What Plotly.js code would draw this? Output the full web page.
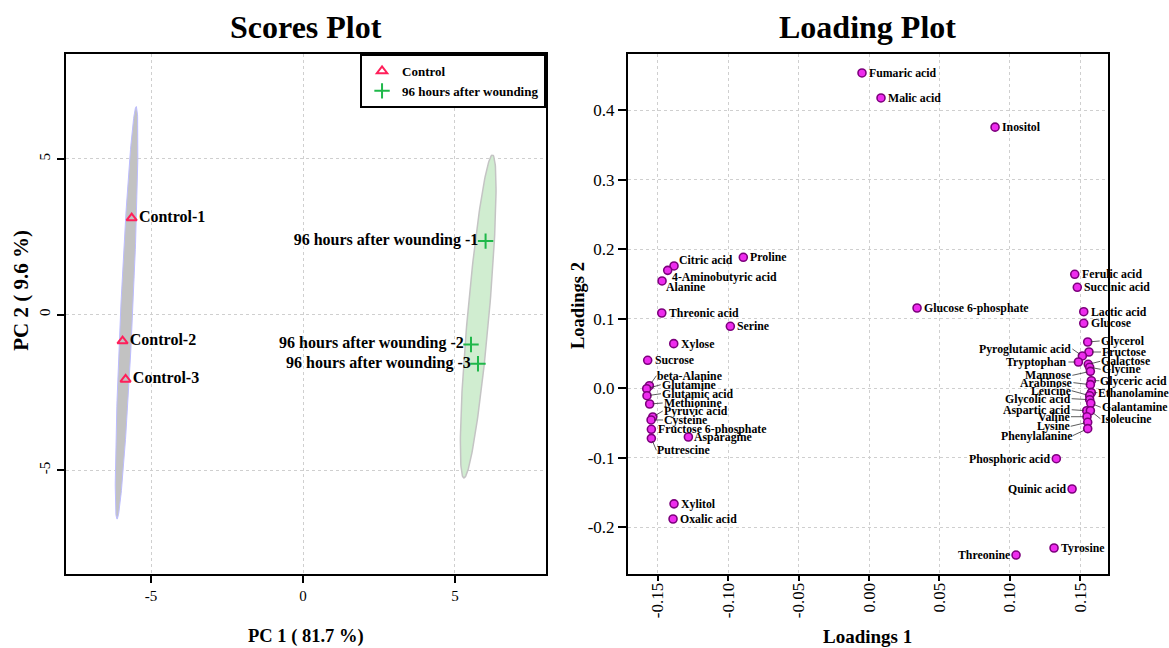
<!DOCTYPE html>
<html>
<head>
<meta charset="utf-8">
<script src="https://cdn.plot.ly/plotly-3.0.1.min.js"></script>
<style>
html,body{margin:0;padding:0;background:#ffffff;}
#chart{width:1169px;height:648px;}
</style>
</head>
<body>
<div id="chart"></div>
<script>
// ---------------- DATA ----------------
const controlNames = ['Control-1', 'Control-2', 'Control-3'];
const controlPC1 = [-5.64, -5.94, -5.84];
const controlPC2 = [3.10, -0.85, -2.08];

const woundNames = ['96 hours after wounding -1', '96 hours after wounding -2', '96 hours after wounding -3'];
const woundPC1 = [6.01, 5.53, 5.76];
const woundPC2 = [2.36, -0.96, -1.58];

const metabolites = [
  'Fumaric acid', 'Malic acid', 'Inositol', 'Proline', 'Citric acid', '4-Aminobutyric acid', 'Alanine',
  'Threonic acid', 'Serine', 'Xylose', 'Sucrose', 'beta-Alanine', 'Glutamine', 'Glutamic acid',
  'Methionine', 'Pyruvic acid', 'Cysteine', 'Fructose 6-phosphate', 'Putrescine', 'Asparagine',
  'Xylitol', 'Oxalic acid', 'Glucose 6-phosphate', 'Ferulic acid', 'Succinic acid', 'Lactic acid',
  'Glucose', 'Glycerol', 'Fructose', 'Pyroglutamic acid', 'Tryptophan', 'Galactose', 'Glycine',
  'Mannose', 'Glyceric acid', 'Arabinose', 'Ethanolamine', 'Leucine', 'Glycolic acid', 'Galantamine',
  'Aspartic acid', 'Isoleucine', 'Valine', 'Lysine', 'Phenylalanine', 'Phosphoric acid', 'Quinic acid',
  'Threonine', 'Tyrosine'
];
const loadings1 = [
  -0.005, 0.0085, 0.0895, -0.0893, -0.1385, -0.143, -0.147,
  -0.1472, -0.0985, -0.1387, -0.1572, -0.156, -0.1579, -0.1577,
  -0.1558, -0.1536, -0.1548, -0.1546, -0.1546, -0.1283,
  -0.1385, -0.1392, 0.0341, 0.1461, 0.1479, 0.1525,
  0.1525, 0.1553, 0.1562, 0.1515, 0.1487, 0.1557, 0.1567,
  0.1572, 0.1579, 0.1572, 0.1579, 0.1567, 0.1567, 0.1575,
  0.1546, 0.1572, 0.1548, 0.1553, 0.1553, 0.133, 0.1442,
  0.1044, 0.1314
];
const loadings2 = [
  0.454, 0.418, 0.376, 0.1888, 0.1763, 0.170, 0.1547,
  0.1086, 0.0895, 0.0645, 0.0406, 0.004, -0.0003, -0.0104,
  -0.0223, -0.041, -0.0453, -0.0587, -0.0717, -0.0698,
  -0.166, -0.1878, 0.1158, 0.1643, 0.1456, 0.1105,
  0.0938, 0.0669, 0.0525, 0.0468, 0.0381, 0.0348, 0.0305,
  0.0247, 0.0112, 0.0055, -0.006, -0.0104, -0.0161, -0.0213,
  -0.032, -0.032, -0.0406, -0.0486, -0.0578, -0.101, -0.1446,
  -0.2396, -0.2295
];

// tick labels
const scoreTickVals = [-5, 0, 5];
const scoreTickText = ['-5', '0', '5'];
const load1TickVals = [-0.15, -0.10, -0.05, 0.00, 0.05, 0.10, 0.15];
const load1TickText = ['-0.15', '-0.10', '-0.05', '0.00', '0.05', '0.10', '0.15'];
const load2TickVals = [-0.2, -0.1, 0.0, 0.1, 0.2, 0.3, 0.4];
const load2TickText = ['-0.2', '-0.1', '0.0', '0.1', '0.2', '0.3', '0.4'];

// ---------------- LABEL PLACEMENT (pixel offsets, layout only) ----------------
// [dx, dy, leaderLine]
const labelOffsets = {
  'Citric acid': [4, -6, 0], '4-Aminobutyric acid': [3, 7, 0], 'Alanine': [3, 6, 0],
  'Fructose 6-phosphate': [6, 0, 0], 'Asparagine': [5, 0, 0],
  'beta-Alanine': [7, -10, 1], 'Glutamine': [14, -4, 1], 'Glutamic acid': [14, -2, 1],
  'Methionine': [13, -1, 1], 'Pyruvic acid': [10, -6, 1], 'Cysteine': [12, 0, 1], 'Putrescine': [5, 12, 1],
  'Glycerol': [12, -1, 1], 'Fructose': [12, 0, 1], 'Galactose': [12, -3, 1], 'Glycine': [11, 2, 1],
  'Glyceric acid': [8, 0, 1], 'Ethanolamine': [6, 0, 1], 'Galantamine': [10, 4, 1], 'Isoleucine': [10, 8, 1],
  'Pyroglutamic acid': [-10, -7, 1], 'Tryptophan': [-10, 0, 1], 'Mannose': [-18, 4, 1],
  'Arabinose': [-17, -2, 1], 'Leucine': [-18, -5, 1], 'Glycolic acid': [-18, -1, 1],
  'Aspartic acid': [-15, -1, 1], 'Valine': [-16, 0, 1], 'Lysine': [-17, 4, 1], 'Phenylalanine': [-15, 7, 1],
  'Phosphoric acid': [-5, 0, 0], 'Quinic acid': [-5, 0, 0], 'Threonine': [-5, 0, 0]
};
const defaultOffset = [6, 0, 0];

// ---------------- HELPERS ----------------
const SERIF = 'Liberation Serif, Times New Roman, serif';
const CHI2_95_2DF = 5.991;

function confidenceEllipse(xs, ys, nPts) {
  const n = xs.length;
  const mx = xs.reduce((a, b) => a + b, 0) / n;
  const my = ys.reduce((a, b) => a + b, 0) / n;
  let sxx = 0, syy = 0, sxy = 0;
  for (let i = 0; i < n; i++) {
    const dx = xs[i] - mx, dy = ys[i] - my;
    sxx += dx * dx; syy += dy * dy; sxy += dx * dy;
  }
  sxx /= (n - 1); syy /= (n - 1); sxy /= (n - 1);
  const tr = (sxx + syy) / 2;
  const disc = Math.sqrt(((sxx - syy) / 2) ** 2 + sxy * sxy);
  const l1 = tr + disc, l2 = Math.max(tr - disc, 0);
  const theta = 0.5 * Math.atan2(2 * sxy, sxx - syy);
  const k = Math.sqrt(CHI2_95_2DF);
  const a = k * Math.sqrt(l1), b = k * Math.sqrt(l2);
  const ex = [], ey = [];
  for (let i = 0; i <= nPts; i++) {
    const t = 2 * Math.PI * i / nPts;
    const c = Math.cos(t), s = Math.sin(t);
    ex.push(mx + a * c * Math.cos(theta) - b * s * Math.sin(theta));
    ey.push(my + a * c * Math.sin(theta) + b * s * Math.cos(theta));
  }
  return {x: ex, y: ey};
}

const ctlEll = confidenceEllipse(controlPC1, controlPC2, 200);
const wndEll = confidenceEllipse(woundPC1, woundPC2, 200);

// ---------------- TRACES ----------------
const scoreLabelFont = {family: SERIF, size: 16, color: '#000', weight: 'bold'};
const traces = [
  {x: ctlEll.x, y: ctlEll.y, xaxis: 'x', yaxis: 'y', mode: 'lines', fill: 'toself',
   fillcolor: '#c2c2c2', line: {color: '#bcbcff', width: 1},
   showlegend: false, hoverinfo: 'skip'},
  {x: wndEll.x, y: wndEll.y, xaxis: 'x', yaxis: 'y', mode: 'lines', fill: 'toself',
   fillcolor: '#d0edd0', line: {color: '#c4c4c4', width: 1.5},
   showlegend: false, hoverinfo: 'skip'},
  {x: controlPC1, y: controlPC2, xaxis: 'x', yaxis: 'y', mode: 'markers', name: 'Control',
   marker: {symbol: 'triangle-up-open', size: 9, color: '#ff1f5a', line: {width: 2, color: '#ff1f5a'}}},
  {x: woundPC1, y: woundPC2, xaxis: 'x', yaxis: 'y', mode: 'markers', name: '96 hours after wounding',
   marker: {symbol: 'cross-thin-open', size: 11, color: '#1fb84a', line: {width: 2, color: '#1fb84a'}}},
  {x: controlPC1, y: controlPC2, xaxis: 'x', yaxis: 'y', mode: 'markers+text', text: controlNames,
   textposition: 'middle right', textfont: scoreLabelFont,
   marker: {size: 10, color: 'rgba(0,0,0,0)'}, showlegend: false, hoverinfo: 'skip'},
  {x: woundPC1, y: woundPC2, xaxis: 'x', yaxis: 'y', mode: 'markers+text', text: woundNames,
   textposition: 'middle left', textfont: scoreLabelFont,
   marker: {size: 10, color: 'rgba(0,0,0,0)'}, showlegend: false, hoverinfo: 'skip'},
  // carrier for the tick-mark-only overlay axis of the loading plot
  {x: loadings1, y: loadings2, xaxis: 'x3', yaxis: 'y2', mode: 'markers',
   marker: {size: 1, opacity: 0}, showlegend: false, hoverinfo: 'skip'},
  {x: loadings1, y: loadings2, xaxis: 'x2', yaxis: 'y2', mode: 'markers', text: metabolites,
   hoverinfo: 'text+x+y', showlegend: false,
   marker: {symbol: 'circle', size: 8, color: '#ee2cee', line: {width: 1.6, color: '#7d007d'}}}
];

// ---------------- ANNOTATIONS ----------------
const labelFont = {family: SERIF, size: 11.8, color: '#000', weight: 'bold'};
const annotations = [];
metabolites.forEach((name, i) => {
  const off = labelOffsets[name] || defaultOffset;
  const dx = off[0], dy = off[1];
  const base = {x: loadings1[i], y: loadings2[i], xref: 'x2', yref: 'y2', text: name,
    font: labelFont, xanchor: dx >= 0 ? 'left' : 'right', yanchor: 'middle', borderpad: 0};
  if (off[2]) {
    Object.assign(base, {showarrow: true, arrowhead: 0, arrowwidth: 0.8, arrowcolor: '#333',
      ax: dx, ay: dy, axref: 'pixel', ayref: 'pixel', standoff: 3});
  } else {
    Object.assign(base, {showarrow: false, xshift: dx, yshift: -dy});
  }
  annotations.push(base);
});

const titleFont = {family: SERIF, size: 32, color: '#000', weight: 'bold'};
const axTitleFont = {family: SERIF, size: 19, color: '#000', weight: 'bold'};
annotations.push(
  {text: 'Scores Plot', xref: 'paper', yref: 'paper', x: 0.2618, y: 0.9583, showarrow: false,
   xanchor: 'center', yanchor: 'middle', font: titleFont},
  {text: 'Loading Plot', xref: 'paper', yref: 'paper', x: 0.7425, y: 0.9583, showarrow: false,
   xanchor: 'center', yanchor: 'middle', font: titleFont},
  {text: 'PC 1 ( 81.7 %)', xref: 'paper', yref: 'paper', x: 0.2618, y: 0.0185, showarrow: false,
   xanchor: 'center', yanchor: 'middle', font: {family: SERIF, size: 18.5, color: '#000', weight: 'bold'}},
  {text: 'Loadings 1', xref: 'paper', yref: 'paper', x: 0.7425, y: 0.0185, showarrow: false,
   xanchor: 'center', yanchor: 'middle', font: axTitleFont},
  {text: 'PC 2 ( 9.6 %)', xref: 'paper', yref: 'paper', x: 0.0178, y: 0.5525, showarrow: false,
   xanchor: 'center', yanchor: 'middle', textangle: -90, font: {family: SERIF, size: 21, color: '#000', weight: 'bold'}},
  {text: 'Loadings 2', xref: 'paper', yref: 'paper', x: 0.4944, y: 0.5293, showarrow: false,
   xanchor: 'center', yanchor: 'middle', textangle: -90, font: {family: SERIF, size: 18.5, color: '#000', weight: 'bold'}}
);

// ---------------- LAYOUT ----------------
const axisCommon = {
  showline: true, mirror: true, linecolor: '#000', linewidth: 2,
  ticks: 'outside', ticklen: 7, tickwidth: 1.5, tickcolor: '#000',
  showgrid: true, gridcolor: '#cfcfcf', gridwidth: 1, griddash: 'dot',
  zeroline: false, automargin: false, tickmode: 'array'
};

const layout = {
  width: 1169, height: 648,
  margin: {l: 0, r: 0, t: 0, b: 0},
  paper_bgcolor: '#ffffff', plot_bgcolor: '#ffffff',
  font: {family: SERIF, color: '#000'},
  showlegend: true,
  legend: {x: 0.4671, xanchor: 'right', y: 0.9167, yanchor: 'top',
    bgcolor: '#ffffff', bordercolor: '#000', borderwidth: 2,
    font: {family: SERIF, size: 13, color: '#000', weight: 'bold'}, tracegroupgap: 0, itemwidth: 30},
  xaxis: Object.assign({}, axisCommon, {domain: [0.0565, 0.4671], range: [-7.8, 8.0],
    tickvals: scoreTickVals, ticktext: scoreTickText, tickfont: {family: SERIF, size: 15, color: '#000'}, anchor: 'y'}),
  yaxis: Object.assign({}, axisCommon, {domain: [0.1142, 0.9167], range: [-8.33, 8.37],
    tickvals: scoreTickVals, ticktext: scoreTickText, tickangle: -90, ticklabelstandoff: 1,
    tickfont: {family: SERIF, size: 15, color: '#000'}, anchor: 'x'}),
  xaxis2: Object.assign({}, axisCommon, {domain: [0.5372, 0.9478], range: [-0.1712, 0.1697],
    tickvals: load1TickVals, ticktext: load1TickText, tickangle: -90, ticks: '', ticklen: 0,
    tickfont: {family: SERIF, size: 17, color: '#000'}, anchor: 'y2'}),
  xaxis3: {overlaying: 'x2', anchor: 'y2', range: [-0.1712, 0.1697], tickmode: 'array',
    tickvals: load1TickVals, showticklabels: false, ticks: 'outside', ticklen: 6, tickwidth: 1.5,
    tickcolor: '#000', showgrid: false, showline: false, zeroline: false, automargin: false},
  yaxis2: Object.assign({}, axisCommon, {domain: [0.1142, 0.9167], range: [-0.2669, 0.4813],
    tickvals: load2TickVals, ticktext: load2TickText, ticklen: 8,
    tickfont: {family: SERIF, size: 17, color: '#000'}, anchor: 'x2'}),
  annotations: annotations
};

Plotly.newPlot('chart', traces, layout, {displayModeBar: false, responsive: false});
</script>
</body>
</html>
